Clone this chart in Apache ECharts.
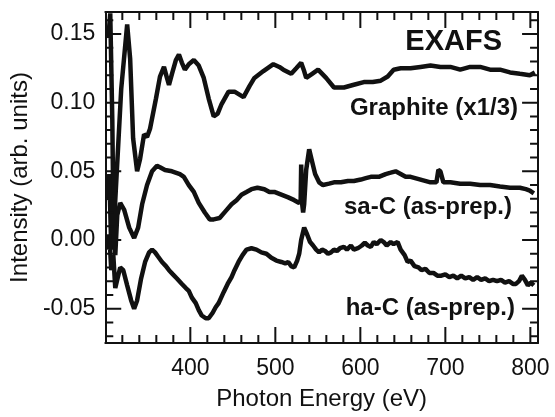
<!DOCTYPE html>
<html><head><meta charset="utf-8">
<script src="https://cdn.jsdelivr.net/npm/echarts@6/dist/echarts.min.js"></script>
<style>html,body{margin:0;padding:0;background:#fff}#c{width:555px;height:417px}</style>
</head><body><div id="c"></div>
<script>
// Axis ticks
const xMajorTicks = [400, 500, 600, 700, 800];
const xMinorTicks = [320, 340, 360, 380, 420, 440, 460, 480, 520, 540, 560, 580, 620, 640, 660, 680, 720, 740, 760, 780];
const yMajorTicks = [-0.05, 0.00, 0.05, 0.10, 0.15];
const yMinorTicks = [-0.07, -0.06, -0.04, -0.03, -0.02, -0.01, 0.01, 0.02, 0.03, 0.04, 0.06, 0.07, 0.08, 0.09, 0.11, 0.12, 0.13, 0.14, 0.16];

// Graphite (x1/3)
const graphiteE = [303.5, 305.8, 308.2, 309.9, 311.7, 318.7, 325.7, 329.2, 332.7, 337.4, 340.9, 345.6, 349.1, 352.6, 359.6, 364.3, 369.0, 372.5, 374.9, 378.4, 383.0, 386.6, 390.1, 393.6, 398.2, 404.1, 409.9, 415.8, 421.6, 427.5, 432.2, 436.8, 445.0, 452.0, 462.6, 469.6, 475.4, 486.0, 497.7, 504.7, 509.4, 518.7, 524.6, 530.4, 533.9, 536.3, 543.3, 550.3, 559.7, 569.0, 580.7, 592.4, 604.1, 614.6, 624.0, 632.2, 639.2, 647.4, 659.1, 670.8, 682.5, 694.2, 705.9, 717.5, 729.2, 740.9, 752.6, 764.3, 776.1, 787.7, 799.4, 805.3];
const graphiteI = [0.147, 0.165, 0.088, -0.004, 0.029, 0.110, 0.157, 0.132, 0.074, 0.050, 0.059, 0.077, 0.075, 0.081, 0.103, 0.119, 0.126, 0.118, 0.113, 0.121, 0.131, 0.135, 0.129, 0.124, 0.128, 0.131, 0.127, 0.118, 0.103, 0.090, 0.092, 0.099, 0.108, 0.108, 0.104, 0.112, 0.118, 0.123, 0.128, 0.126, 0.124, 0.121, 0.125, 0.129, 0.123, 0.118, 0.121, 0.124, 0.118, 0.111, 0.111, 0.113, 0.115, 0.115, 0.116, 0.119, 0.124, 0.125, 0.125, 0.126, 0.127, 0.126, 0.126, 0.124, 0.126, 0.126, 0.124, 0.124, 0.122, 0.121, 0.120, 0.122];

// sa-C (as-prep.)
const saE = [302.3, 304.7, 307.0, 309.4, 311.7, 314.0, 317.5, 322.2, 328.1, 333.9, 338.6, 343.3, 349.1, 355.0, 360.8, 364.3, 370.2, 378.4, 387.7, 392.4, 398.2, 404.1, 409.9, 417.0, 422.8, 427.5, 434.5, 441.5, 448.5, 454.4, 460.2, 466.1, 471.9, 479.0, 487.1, 493.0, 498.8, 507.0, 515.2, 522.2, 528.1, 529.8, 530.4, 531.6, 532.7, 533.9, 536.3, 539.8, 543.3, 546.8, 551.5, 556.1, 563.2, 569.0, 577.2, 585.4, 592.4, 600.6, 606.4, 612.3, 621.7, 629.8, 635.7, 641.5, 647.4, 653.3, 659.1, 670.8, 682.5, 689.5, 691.8, 694.2, 697.7, 705.9, 717.5, 729.2, 740.9, 752.6, 764.3, 776.1, 787.7, 794.7, 799.4, 804.1];
const saI = [0.029, 0.048, -0.007, 0.033, -0.011, 0.018, 0.027, 0.022, 0.009, 0.0015, 0.009, 0.026, 0.040, 0.050, 0.054, 0.053, 0.051, 0.050, 0.048, 0.046, 0.040, 0.035, 0.027, 0.020, 0.015, 0.015, 0.016, 0.021, 0.026, 0.029, 0.033, 0.035, 0.037, 0.038, 0.037, 0.035, 0.035, 0.033, 0.031, 0.029, 0.027, 0.029, 0.055, 0.026, 0.020, 0.026, 0.051, 0.066, 0.057, 0.048, 0.042, 0.040, 0.041, 0.042, 0.042, 0.043, 0.043, 0.044, 0.045, 0.046, 0.046, 0.048, 0.049, 0.050, 0.048, 0.046, 0.046, 0.044, 0.042, 0.042, 0.051, 0.050, 0.042, 0.042, 0.041, 0.041, 0.040, 0.040, 0.039, 0.038, 0.038, 0.037, 0.036, 0.034];

// ha-C (as-prep.)
const haE = [302.3, 304.7, 307.0, 309.4, 311.7, 314.0, 317.5, 321.1, 325.7, 330.4, 333.9, 337.4, 342.1, 346.8, 351.5, 355.0, 358.5, 362.0, 366.7, 371.3, 374.9, 379.5, 384.2, 390.1, 394.7, 398.2, 401.8, 406.4, 409.9, 413.5, 418.1, 421.6, 426.3, 429.8, 433.3, 439.2, 443.9, 448.5, 452.0, 456.7, 461.4, 466.1, 471.9, 477.8, 483.6, 489.5, 495.3, 501.2, 507.0, 511.7, 515.2, 518.7, 522.2, 525.7, 528.1, 530.4, 533.9, 537.4, 540.9, 544.4, 548.0, 551.5, 555.0, 558.5, 562.0, 565.5, 569.0, 572.5, 576.0, 580.7, 584.2, 588.9, 592.4, 597.1, 601.8, 605.3, 608.8, 612.3, 615.8, 619.3, 624.0, 627.5, 631.0, 635.7, 639.2, 643.9, 647.4, 652.1, 655.6, 659.1, 663.7, 668.4, 671.9, 676.6, 681.3, 686.0, 690.6, 695.3, 700.0, 704.7, 709.4, 714.0, 718.7, 723.4, 728.1, 732.7, 737.4, 742.1, 746.8, 751.5, 756.1, 760.8, 765.5, 770.2, 774.9, 779.5, 783.0, 786.6, 790.0, 793.6, 797.1, 800.6, 804.1];
const haI = [-0.007, 0.004, -0.022, -0.011, -0.035, -0.029, -0.020, -0.022, -0.033, -0.044, -0.050, -0.044, -0.028, -0.016, -0.009, -0.007, -0.009, -0.012, -0.016, -0.019, -0.022, -0.025, -0.028, -0.032, -0.035, -0.037, -0.042, -0.046, -0.051, -0.055, -0.057, -0.057, -0.053, -0.049, -0.046, -0.038, -0.032, -0.027, -0.022, -0.016, -0.011, -0.007, -0.006, -0.007, -0.009, -0.010, -0.013, -0.015, -0.016, -0.017, -0.016, -0.019, -0.020, -0.015, -0.010, 0.000, 0.009, 0.004, -0.0015, -0.004, -0.007, -0.009, -0.007, -0.008, -0.010, -0.009, -0.007, -0.008, -0.006, -0.005, -0.007, -0.004, -0.007, -0.006, -0.004, -0.002, -0.004, -0.005, -0.0015, -0.003, 0.000, -0.0015, -0.004, -0.0015, -0.003, -0.0015, -0.007, -0.011, -0.016, -0.015, -0.019, -0.020, -0.022, -0.021, -0.024, -0.024, -0.026, -0.026, -0.025, -0.027, -0.026, -0.028, -0.026, -0.028, -0.027, -0.029, -0.027, -0.029, -0.028, -0.030, -0.029, -0.030, -0.029, -0.031, -0.030, -0.032, -0.032, -0.030, -0.026, -0.029, -0.033, -0.031, -0.033];

const zip = (xs, ys) => xs.map((x, i) => [x, ys[i]]);
const FONT = "'Liberation Sans', Arial, Helvetica, sans-serif";
const INK = '#111';
const W = 555, H = 417;
const GRID = { left: 103, right: 17, top: 12, bottom: 74 };
const X_MIN = 300, X_MAX = 809, Y_MIN = -0.075, Y_MAX = 0.166;
const MAJOR_PX = 16, MINOR_PX = 8;
// tick lengths converted from pixels into axis units through the grid size
const xPerPx = (X_MAX - X_MIN) / (W - GRID.left - GRID.right);
const yPerPx = (Y_MAX - Y_MIN) / (H - GRID.top - GRID.bottom);
const GAP = ['-', '-'];

// tick segments (inside, on all four sides), drawn as line series on the axes' scales
function xTickSegs(values, px) {
  const d = px * yPerPx, out = [];
  values.forEach(v => { out.push([v, Y_MIN], [v, Y_MIN + d], GAP, [v, Y_MAX], [v, Y_MAX - d], GAP); });
  return out;
}
function yTickSegs(values, px) {
  const d = px * xPerPx, out = [];
  values.forEach(v => { out.push([X_MIN, v], [X_MIN + d, v], GAP, [X_MAX, v], [X_MAX - d, v], GAP); });
  return out;
}
const tickSeries = data => ({
  type: 'line', data, showSymbol: false, silent: true, connectNulls: false, clip: false,
  lineStyle: { color: INK, width: 2, cap: 'butt' }, z: 4
});
const lineSeries = (name, data) => ({
  name, type: 'line', data, showSymbol: false, lineStyle: { color: INK, width: 4.5 }, z: 3
});

function xAx(pos, labels) {
  return {
    type: 'value', position: pos, min: X_MIN, max: X_MAX, interval: 100,
    axisLine: { show: true, onZero: false, lineStyle: { color: INK, width: 2 } },
    axisTick: { show: false },
    minorTick: { show: false },
    axisLabel: labels ? { show: true, margin: 14, fontFamily: FONT, fontSize: 23, color: INK,
      formatter: v => xMajorTicks.includes(v) ? String(v) : '' } : { show: false },
    splitLine: { show: false },
    name: labels ? 'Photon Energy (eV)' : '',
    nameLocation: 'middle', nameGap: 44,
    nameTextStyle: { fontFamily: FONT, fontSize: 24, color: INK }
  };
}
function yAx(pos, labels) {
  return {
    type: 'value', position: pos, min: Y_MIN, max: Y_MAX,
    axisLine: { show: true, onZero: false, lineStyle: { color: INK, width: 2 } },
    axisTick: { show: false },
    axisLabel: labels ? { show: true, customValues: yMajorTicks, margin: 10, fontFamily: FONT, fontSize: 23, color: INK,
      formatter: v => Number(v).toFixed(2) } : { show: false },
    splitLine: { show: false },
    name: labels ? 'Intensity (arb. units)' : '',
    nameLocation: 'middle', nameGap: 64,
    nameTextStyle: { fontFamily: FONT, fontSize: 24, color: INK }
  };
}

const chart = echarts.init(document.getElementById('c'));
chart.setOption({
  animation: false,
  backgroundColor: '#fff',
  grid: GRID,
  xAxis: [xAx('bottom', true), xAx('top', false)],
  yAxis: [yAx('left', true), yAx('right', false)],
  series: [
    lineSeries('Graphite (x1/3)', zip(graphiteE, graphiteI)),
    lineSeries('sa-C (as-prep.)', zip(saE, saI)),
    lineSeries('ha-C (as-prep.)', zip(haE, haI)),
    tickSeries(xTickSegs(xMajorTicks, MAJOR_PX)),
    tickSeries(xTickSegs(xMinorTicks, MINOR_PX)),
    tickSeries(yTickSegs(yMajorTicks, MAJOR_PX)),
    tickSeries(yTickSegs(yMinorTicks, MINOR_PX))
  ],
  graphic: [
    { type: 'text', right: 53, top: 27, style: { text: 'EXAFS', font: `bold 29px ${FONT}`, fill: INK } },
    { type: 'text', right: 37, top: 96, style: { text: 'Graphite (x1/3)', font: `bold 24px ${FONT}`, fill: INK } },
    { type: 'text', right: 43, top: 195, style: { text: 'sa-C (as-prep.)', font: `bold 24px ${FONT}`, fill: INK } },
    { type: 'text', right: 40, top: 296, style: { text: 'ha-C (as-prep.)', font: `bold 24px ${FONT}`, fill: INK } }
  ]
});
</script>
</body></html>
